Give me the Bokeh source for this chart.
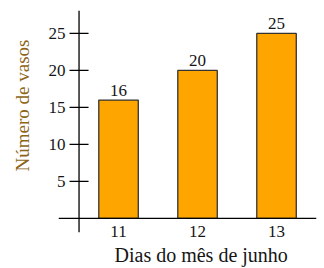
from bokeh.plotting import figure
from bokeh.models import LinearAxis, FixedTicker, LabelSet, ColumnDataSource, Range1d, Title, Span
from bokeh.core.properties import value
from bokeh.embed import file_html
from bokeh.resources import INLINE

# ---- data ----
days = [11, 12, 13]
vasos = [16, 20, 25]
y_ticks = [5, 10, 15, 20, 25]
x_title = "Dias do mês de junho"
y_title = "Número de vasos"

Y_AXIS_AT = 10.5   # x position of the vertical axis (data units)

FONT = "Liberation Serif"
BAR = "#FFA500"
INK = "#151515"
TITLE_COLOR = "#8c6518"

p = figure(width=324, height=268,
           x_range=Range1d(10.24, 13.506), y_range=Range1d(-1.9, 28.1),
           x_axis_type=None, y_axis_type=None,
           output_backend="svg", toolbar_location=None,
           min_border_left=58, min_border_right=8,
           min_border_top=10, min_border_bottom=36)
p.outline_line_color = None
p.background_fill_color = "white"
p.border_fill_color = "white"

src = ColumnDataSource(dict(x=days, top=vasos, lab=[str(v) for v in vasos]))
p.vbar(x="x", top="top", bottom=0, width=0.5, source=src,
       fill_color=BAR, line_color="#333333", line_width=1.3)

# --- axis lines + tick marks ---
p.add_layout(Span(location=0, dimension="width", line_color="black", line_width=1.3))
p.add_layout(Span(location=Y_AXIS_AT, dimension="height", line_color="black", line_width=1.3))
p.scatter(x=Y_AXIS_AT, y=y_ticks, marker="dash", size=19,
          line_color="black", line_width=1.3)

# --- tick labels (panel axes, no lines) ---
ylab = LinearAxis(ticker=FixedTicker(ticks=y_ticks))
ylab.axis_line_color = None
ylab.major_tick_line_color = None
ylab.minor_tick_line_color = None
ylab.major_tick_in = 0
ylab.major_tick_out = 0
ylab.major_label_standoff = -7
ylab.major_label_text_font = FONT
ylab.major_label_text_font_size = "17px"
ylab.major_label_text_color = INK
p.add_layout(ylab, "left")

xlab = LinearAxis(ticker=FixedTicker(ticks=days))
xlab.axis_line_color = None
xlab.major_tick_line_color = None
xlab.minor_tick_line_color = None
xlab.major_tick_in = 0
xlab.major_tick_out = 0
xlab.major_label_standoff = -7
xlab.major_label_text_font = FONT
xlab.major_label_text_font_size = "17px"
xlab.major_label_text_color = INK
p.add_layout(xlab, "below")

# value labels above bars
labels = LabelSet(x="x", y="top", text="lab", source=src, y_offset=4,
                  text_align="center", text_baseline="alphabetic",
                  text_font=value(FONT), text_font_size=value("17px"),
                  text_color=INK)
p.add_layout(labels)

# axis titles
xt = Title(text=x_title, align="left", offset=56, standoff=5, vertical_align="bottom",
           text_font=FONT, text_font_size="20px", text_font_style="normal",
           text_color=INK)
p.add_layout(xt, "below")

yt = Title(text=y_title, align="left", offset=61, standoff=22, vertical_align="top",
           text_font=FONT, text_font_size="19px", text_font_style="normal",
           text_color=TITLE_COLOR)
p.add_layout(yt, "left")

open("out.html", "w").write(file_html(p, INLINE))
